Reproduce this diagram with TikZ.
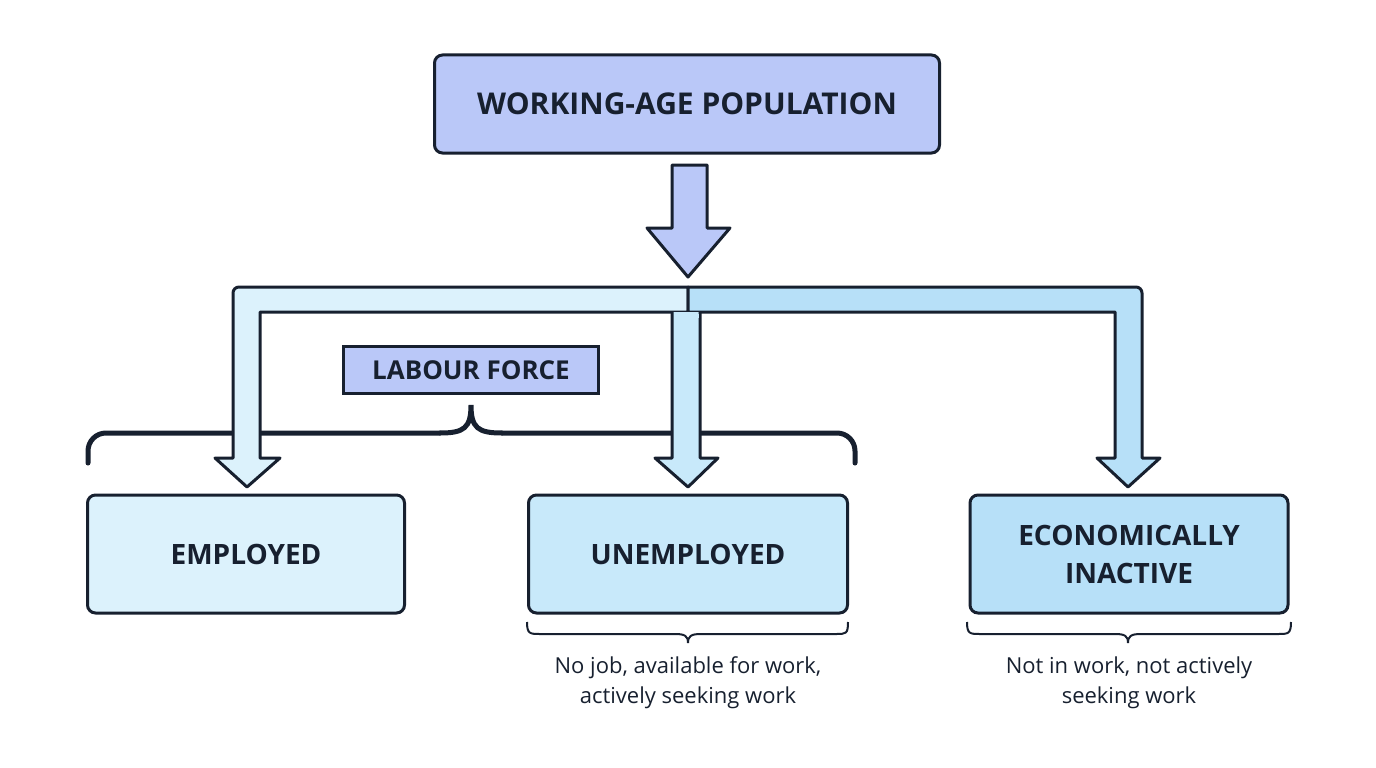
\documentclass[tikz,border=0pt]{standalone}
\usepackage{fontspec}
\setmainfont{Open Sans}
\usetikzlibrary{positioning}
\definecolor{inkline}{HTML}{17202F}
\definecolor{popfill}{HTML}{BAC8F8}
\definecolor{empfill}{HTML}{DCF2FC}
\definecolor{unempfill}{HTML}{C8E9FA}
\definecolor{inactfill}{HTML}{B7E0F8}
\begin{document}
\begin{tikzpicture}[x=1pt,y=-1pt,
  boxnode/.style={rectangle, rounded corners=8pt, draw=inkline, line width=3pt, align=center, font=\bfseries, text=inkline, inner sep=0pt},
  tagnode/.style={rectangle, draw=inkline, line width=3pt, fill=popfill, font=\fontsize{26}{30}\selectfont\bfseries, text=inkline, minimum width=255pt, minimum height=47pt},
  notenode/.style={align=center, font=\fontsize{22}{30}\selectfont, text=inkline},
  bigarrow/.style={draw=inkline, line width=3pt, line join=round},
  bracket/.style={draw=inkline, line width=5pt, line cap=round}
]
\useasboundingbox (0,0) rectangle (1376,768);

%Nodes
\node[boxnode, fill=popfill, minimum width=505pt, minimum height=98pt, font=\fontsize{30}{34}\selectfont\bfseries] (pop) at (687,104) {WORKING-AGE POPULATION};
\node[boxnode, fill=empfill, minimum width=317pt, minimum height=118pt, font=\fontsize{28}{34}\selectfont\bfseries] (emp) at (246,554) {EMPLOYED};
\node[boxnode, fill=unempfill, minimum width=319pt, minimum height=118pt, font=\fontsize{28}{34}\selectfont\bfseries] (unemp) at (688,554) {UNEMPLOYED};
\node[boxnode, fill=inactfill, minimum width=318pt, minimum height=118pt, font=\fontsize{28}{38}\selectfont\bfseries] (inact) at (1129,554) {ECONOMICALLY\\INACTIVE};
\node[tagnode] (labour) at (471,370) {LABOUR FORCE};
\node[notenode] (unempnote) at (688,683) {No job, available for work,\\actively seeking work};
\node[notenode] (inactnote) at (1129,683) {Not in work, not actively\\seeking work};

%Labour force bracket
\draw[bracket, rounded corners=18pt] (88,463) -- (88,433) -- (440,433);
\draw[bracket] (440,433) .. controls (464,433) and (471,428) .. (471,405)
  .. controls (471,428) and (478,433) .. (502,433);
\draw[bracket, rounded corners=18pt] (502,433) -- (855,433) -- (855,463);

%Small brackets
\draw[inkline, line width=2pt] (527,622) .. controls (527,634) and (530,634) .. (540,634) -- (675,634)
  .. controls (685,634) and (688,636) .. (688,643) .. controls (688,636) and (691,634) .. (701,634)
  -- (836,634) .. controls (846,634) and (848,634) .. (848,622);
\draw[inkline, line width=2pt] (967,622) .. controls (967,634) and (970,634) .. (980,634) -- (1115,634)
  .. controls (1125,634) and (1128,636) .. (1128,643) .. controls (1128,636) and (1131,634) .. (1141,634)
  -- (1278,634) .. controls (1288,634) and (1291,634) .. (1291,622);

%Arrows
\draw[bigarrow, fill=popfill] (672,165) -- (707,165) -- (707,228) -- (730,228) -- (688,277) -- (647,228) -- (672,228) -- cycle;
\draw[bigarrow, fill=empfill, rounded corners=6pt] (688,287) -- (233,287) [sharp corners] -- (233,458) -- (215,458) -- (247,487) -- (280,458) -- (260,458) -- (260,312) -- (688,312) -- cycle;
\draw[bigarrow, fill=inactfill, rounded corners=6pt] (688,287) -- (1142,287) [sharp corners] -- (1142,458) -- (1160,458) -- (1128,487) -- (1097,458) -- (1115,458) -- (1115,312) -- (688,312) -- cycle;
\draw[bigarrow, fill=unempfill] (672,312) -- (672,458) -- (655,458) -- (688,487) -- (718,458) -- (700,458) -- (700,312);
\fill[unempfill] (673.5,313.5) rectangle (698.5,318);
\end{tikzpicture}
\end{document}
